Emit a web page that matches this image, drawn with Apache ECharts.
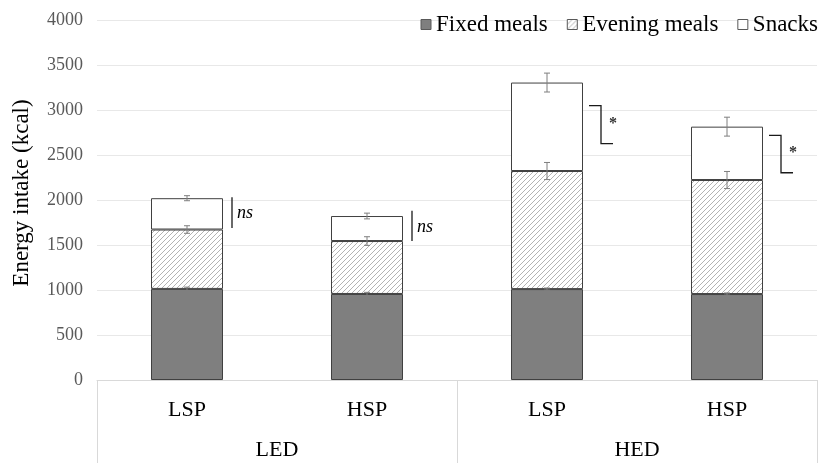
<!DOCTYPE html>
<html>
<head>
<meta charset="utf-8">
<script src="https://cdn.jsdelivr.net/npm/echarts@6/dist/echarts.min.js"></script>
<style>
html,body{margin:0;padding:0;background:#fff;}
#chart{width:827px;height:465px;}
</style>
</head>
<body>
<div id="chart"></div>
<script>
// ---- data ----
var categories = ['LSP', 'HSP', 'LSP', 'HSP'];
var groups = ['LED', 'HED'];
var fixedMeals = [1012, 956, 1010, 955];
var eveningMeals = [660, 588, 1312, 1267];
var snacks = [348, 278, 983, 593];
var fixedErr = [20, 18, 12, 12];
var eveningErr = [42, 48, 95, 95];
var snacksErr = [28, 32, 105, 105];
var sigTop = [2030, 1880, 3048, 2719];
var sigBottom = [1690, 1545, 2626, 2303];
var sigLabels = ['ns', 'ns', '*', '*'];
var yTicks = [0, 500, 1000, 1500, 2000, 2500, 3000, 3500, 4000];

// ---- derived ----
var serif = '"Liberation Serif", "Times New Roman", serif';
var cumEvening = fixedMeals.map(function (v, i) { return v + eveningMeals[i]; });
var cumSnacks = cumEvening.map(function (v, i) { return v + snacks[i]; });
var errData = [];
for (var i = 0; i < categories.length; i++) {
  errData.push([i, fixedMeals[i], fixedErr[i]]);
  errData.push([i, cumEvening[i], eveningErr[i]]);
  errData.push([i, cumSnacks[i], snacksErr[i]]);
}
var sigData = sigLabels.map(function (l, i) { return [i, sigTop[i], sigBottom[i], l]; });

// hatch pattern
var P = 5;
var pc = document.createElement('canvas');
pc.width = P; pc.height = P;
var ctx = pc.getContext('2d');
ctx.fillStyle = '#ffffff';
ctx.fillRect(0, 0, P, P);
ctx.strokeStyle = '#b3b3b3';
ctx.lineWidth = 1;
ctx.beginPath();
ctx.moveTo(-1, P + 1); ctx.lineTo(P + 1, -1);
ctx.moveTo(-P - 1, 1); ctx.lineTo(1, -P - 1);
ctx.moveTo(P - 1, 2 * P + 1); ctx.lineTo(2 * P + 1, P - 1);
ctx.stroke();
var hatch = { image: pc, repeat: 'repeat' };

var chart = echarts.init(document.getElementById('chart'), null, { renderer: 'canvas' });
var barBorder = { borderColor: '#404040', borderWidth: 1 };

var option = {
  animation: false,
  backgroundColor: '#ffffff',
  grid: { left: 97, right: 10, top: 20, bottom: 85 },
  legend: {
    right: 4, top: 8,
    itemWidth: 10, itemHeight: 10, itemGap: 19,
    textStyle: { fontFamily: serif, fontSize: 23, color: '#000' },
    data: [
      { name: 'Fixed meals', icon: 'rect', itemStyle: { borderColor: '#595959', borderWidth: 1 } },
      { name: 'Evening meals', icon: 'rect', itemStyle: { borderColor: '#595959', borderWidth: 1 } },
      { name: 'Snacks', icon: 'rect', itemStyle: { borderColor: '#595959', borderWidth: 1 } }
    ]
  },
  xAxis: [
    {
      type: 'category', data: categories, gridIndex: 0,
      axisLine: { show: true, lineStyle: { color: '#d9d9d9' } },
      axisTick: { show: false },
      axisLabel: { margin: 19, fontFamily: serif, fontSize: 22, color: '#000' }
    },
    {
      type: 'category', data: groups, gridIndex: 0, position: 'bottom',
      axisLine: { show: false },
      axisTick: { show: true, length: 83, lineStyle: { color: '#d9d9d9' } },
      axisLabel: { margin: 59, fontFamily: serif, fontSize: 22, color: '#000' }
    }
  ],
  yAxis: {
    type: 'value', min: 0, max: 4000, interval: 500,
    name: 'Energy intake (kcal)', nameLocation: 'middle', nameGap: 64,
    nameTextStyle: { fontFamily: serif, fontSize: 23, color: '#000', padding: [0, 0, 0, 14] },
    axisLine: { show: false }, axisTick: { show: false },
    axisLabel: { margin: 14, fontFamily: serif, fontSize: 18, color: '#595959',
      formatter: function (v) { return yTicks.indexOf(v) >= 0 ? String(v) : ''; } },
    splitLine: { lineStyle: { color: '#e8e8e8' } }
  },
  series: [
    { name: 'Fixed meals', type: 'bar', stack: 'a', barWidth: '40%', data: fixedMeals,
      itemStyle: Object.assign({ color: '#7f7f7f' }, barBorder) },
    { name: 'Evening meals', type: 'bar', stack: 'a', data: eveningMeals,
      itemStyle: Object.assign({ color: hatch }, barBorder) },
    { name: 'Snacks', type: 'bar', stack: 'a', data: snacks,
      itemStyle: Object.assign({ color: '#ffffff' }, barBorder) },
    {
      type: 'custom', name: 'err', data: errData, z: 10,
      renderItem: function (params, api) {
        var x = api.value(0), y = api.value(1), e = api.value(2);
        var hi = api.coord([x, y + e]), lo = api.coord([x, y - e]);
        var cx = hi[0], w = 3;
        var st = { stroke: '#7f7f7f', lineWidth: 1 };
        return { type: 'group', children: [
          { type: 'line', shape: { x1: cx, y1: hi[1], x2: cx, y2: lo[1] }, style: st },
          { type: 'line', shape: { x1: cx - w, y1: hi[1], x2: cx + w, y2: hi[1] }, style: st },
          { type: 'line', shape: { x1: cx - w, y1: lo[1], x2: cx + w, y2: lo[1] }, style: st }
        ] };
      }
    },
    {
      type: 'custom', name: 'sig', data: sigData, z: 10,
      renderItem: function (params, api) {
        var x = api.value(0);
        var t = api.coord([x, api.value(1)]), b = api.coord([x, api.value(2)]);
        var lbl = sigLabels[params.dataIndex];
        var cx = t[0];
        var st = { stroke: '#1a1a1a', lineWidth: 1.3, fill: null };
        var mid = (t[1] + b[1]) / 2;
        if (lbl === 'ns') {
          return { type: 'group', children: [
            { type: 'line', shape: { x1: cx + 45, y1: t[1], x2: cx + 45, y2: b[1] }, style: st },
            { type: 'text', style: { text: lbl, x: cx + 50, y: mid + 1, fontFamily: serif, fontStyle: 'italic',
              fontSize: 18, fill: '#000', textVerticalAlign: 'middle', verticalAlign: 'middle' } }
          ] };
        }
        return { type: 'group', children: [
          { type: 'polyline', shape: { points: [[cx + 42, t[1]], [cx + 54, t[1]], [cx + 54, b[1]], [cx + 66, b[1]]] }, style: st },
          { type: 'text', style: { text: lbl, x: cx + 62, y: mid - 1, fontFamily: serif, fontWeight: 'bold',
            fontSize: 16, fill: '#333', textVerticalAlign: 'middle', verticalAlign: 'middle' } }
        ] };
      }
    }
  ]
};
chart.setOption(option);
</script>
</body>
</html>
